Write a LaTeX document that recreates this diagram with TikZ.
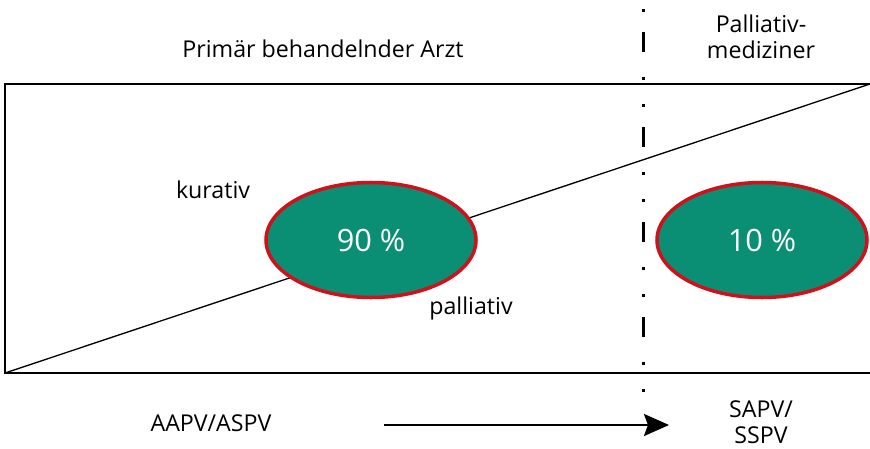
\documentclass[tikz,border=0pt]{standalone}
\usepackage{fontspec}
\setmainfont{Open Sans}
\usepackage{tikz}
\usetikzlibrary{arrows.meta, shapes.geometric}
\definecolor{shareGreen}{HTML}{0B8F74}
\definecolor{shareRed}{HTML}{D0101A}

\begin{document}
\begin{tikzpicture}[x=0.2mm, y=-0.2mm, font=\fontsize{13.2}{15}\selectfont,
	share/.style={ellipse, draw=shareRed, line width=2pt, fill=shareGreen, text=white,
		minimum width=210*0.2mm, minimum height=115*0.2mm, font=\fontsize{17.5}{20}\selectfont}]
	\useasboundingbox (0,0) rectangle (870,448);
	\draw[line width=0.9pt] (870,84) -- (5,84) -- (5,373) -- (870,373);
	\draw[line width=0.75pt] (5,373) -- (870,84);
	\draw[line width=1.7pt, dash pattern=on 4mm off 4.9mm on 0.6mm off 4.9mm on 0.6mm off 4mm, dash phase=14.4mm] (643,9) -- (643,392);
	\node[share] (kur) at (371,240) {90 \%};
	\node[share] (pal) at (762,240) {10 \%};
	\node (arzt) at (323,49) {Primär behandelnder Arzt};
	\node[align=center] (pm) at (761,37) {Palliativ-\\[0pt]mediziner};
	\node (kurativ) at (213,190) {kurativ};
	\node (palliativ) at (471,308) {palliativ};
	\node (aapv) at (211,423) {AAPV/ASPV};
	\node[align=center] (sapv) at (761,422) {SAPV/\\[0pt]SSPV};
	\coordinate (from) at (384,425);
	\coordinate (to) at (669,425);
	\draw[line width=1.6pt, -{Stealth[length=5mm, width=4.4mm, inset=0.8mm]}] (from) -- (to);
\end{tikzpicture}
\end{document}
